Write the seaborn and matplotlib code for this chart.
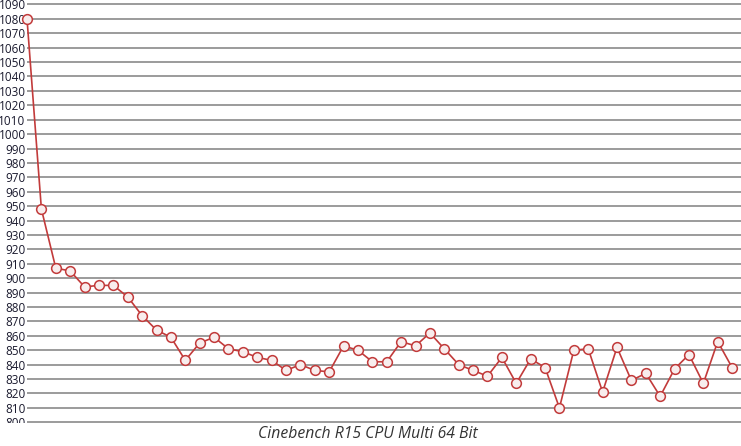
import matplotlib
matplotlib.use("Agg")
import matplotlib.pyplot as plt
from matplotlib.transforms import Bbox, TransformedBbox
import seaborn as sns
import pandas as pd
import numpy as np

# scores per run
runs = list(range(1, 51))
scores = [1080, 948, 907, 905, 894, 895, 895, 887, 874, 864,
          859, 843, 855, 859, 851, 849, 845, 843, 836, 840,
          836, 835, 853, 850, 842, 842, 856, 853, 862, 851,
          840, 836, 832, 845, 827, 844, 838, 810, 850, 851,
          821, 852, 829, 834, 818, 837, 847, 827, 856, 838]
y_ticks = list(range(800, 1091, 10))
title = "Cinebench R15 CPU Multi 64 Bit"

df = pd.DataFrame({"run": runs, "score": scores})

sns.set_style("white")
plt.rcParams['font.family'] = ['Open Sans', 'DejaVu Sans']

fig = plt.figure(figsize=(7.41, 4.46), dpi=100)
ax = fig.add_axes([27 / 741, 23 / 446, 1 - 27 / 741, 1 - 23 / 446])

sns.lineplot(data=df, x="run", y="score", ax=ax, color="#c23b3b",
             linewidth=1.2, marker="o", markersize=7,
             markerfacecolor="#f8eded", markeredgecolor="#c23b3b",
             markeredgewidth=1.1, zorder=3, clip_on=False)

ax.set_xlim(1, 1 + (741 - 27) / 14.39)
ax.set_ylim(799.5, 800 + 422.3 / 1.441)
ax.set_yticks(y_ticks)
ax.set_xticks([])
ax.yaxis.grid(True, color="#808080", linewidth=1.1)
ax.set_axisbelow(True)
for s in ax.spines.values():
    s.set_visible(False)
ax.tick_params(axis="y", length=0, pad=1, labelsize=8.5, labelcolor="#1a1a2e")
ax.set_xlabel("")
ax.set_ylabel("")

# labels are clipped at the bottom edge of the plot region, like the original
clip = TransformedBbox(Bbox([[0, 23 / 446], [1, 1]]), fig.transFigure)
for lab in ax.get_yticklabels():
    lab.set_clip_box(clip)
    lab.set_clip_on(True)

fig.text(367.5 / 741, 1 - 434 / 446, title, ha="center", va="center",
         fontsize=11.3, style="italic", color="#333333")

fig.savefig("out.png", dpi=100)
plt.close(fig)
